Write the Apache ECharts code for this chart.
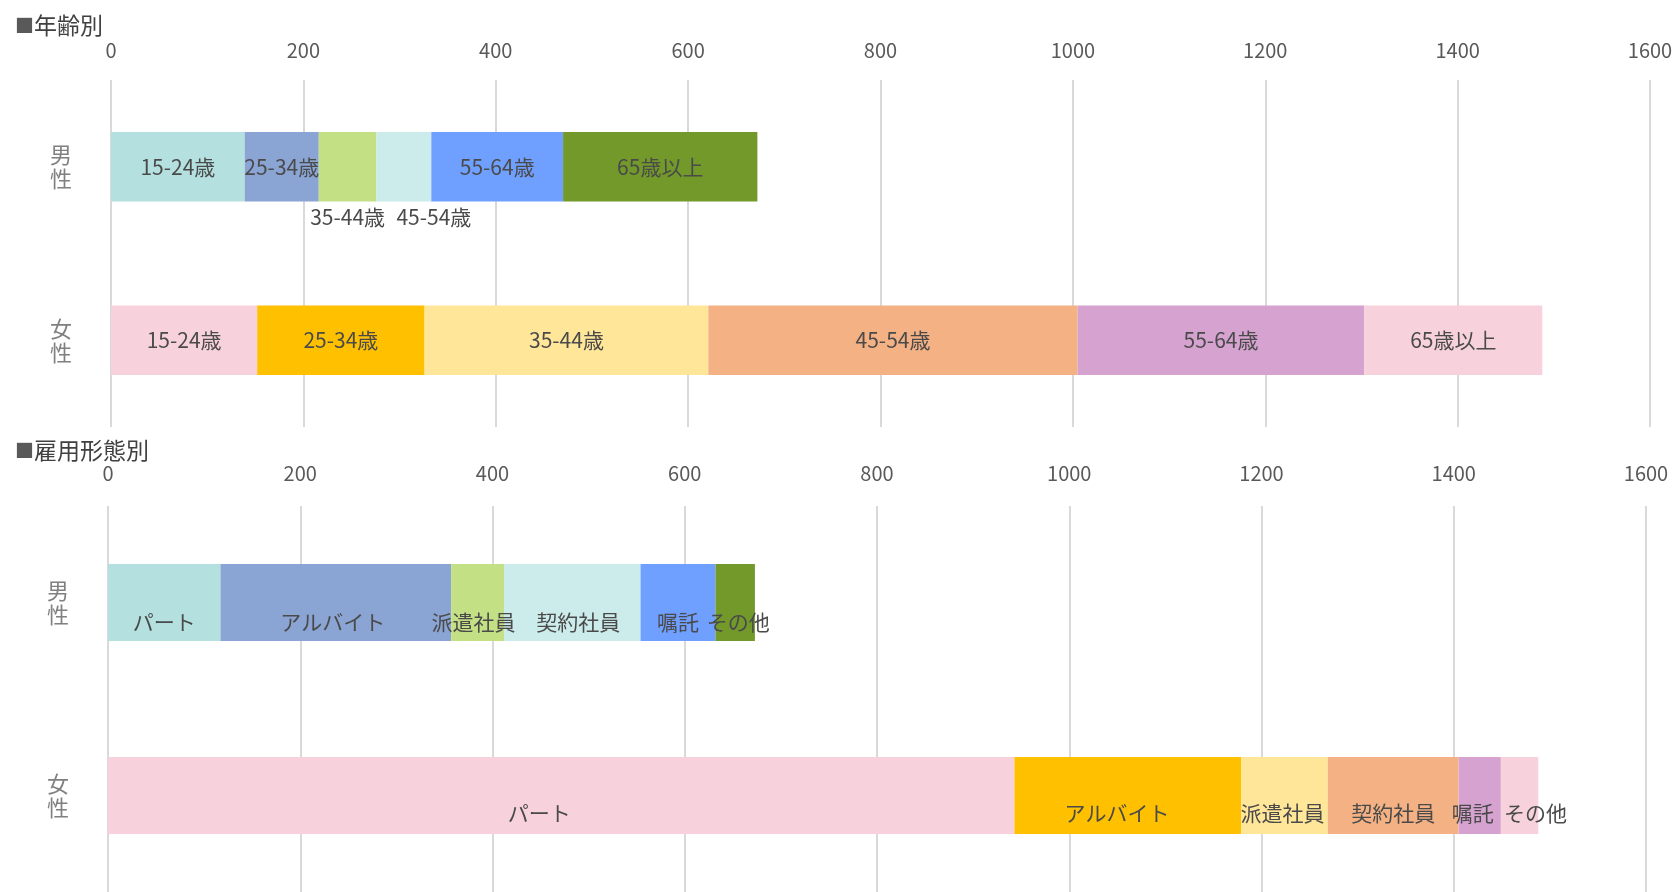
<!DOCTYPE html>
<html>
<head>
<meta charset="utf-8">
<script src="https://cdn.jsdelivr.net/npm/echarts@6/dist/echarts.min.js"></script>
<style>
html,body{margin:0;padding:0;background:#fff;}
#c{width:1680px;height:892px;}
</style>
</head>
<body>
<div id="c"></div>
<script>
// ---- data ----
const genders = ['男性', '女性'];
const ageGroups = ['15-24歳', '25-34歳', '35-44歳', '45-54歳', '55-64歳', '65歳以上'];
const ageMale = [139, 77, 60, 57, 137, 202];
const ageFemale = [152, 174, 295, 384, 298, 185];
const empTypes = ['パート', 'アルバイト', '派遣社員', '契約社員', '嘱託', 'その他'];
const empMale = [117, 240, 55, 142, 78, 41];
const empFemale = [943, 236, 90, 136, 44, 39];
const xMin = 0, xMax = 1600, xStep = 200;

// ---- styles ----
const maleColors = ['#B4E0E0', '#8AA4D4', '#C4E085', '#CCEBEB', '#6F9FFF', '#72992A'];
const femaleColors = ['#F7D2DC', '#FFC000', '#FFE699', '#F4B183', '#D6A3D0', '#F7D2DC'];
const FONT = '"Noto Sans CJK JP", "Noto Sans", sans-serif';
const labelBase = { show: true, color: '#4A4A4A', fontSize: 21, fontFamily: FONT };

// per-label placement tweaks (styles, not data)
const ageMaleLabel = [
  {}, {}, { position: 'bottom', distance: 5 }, { position: 'bottom', distance: 5, offset: [30, 0] }, {}, {}
];
const empMaleDx = [0, -3, -4, 6, 0, 3];
const empFemaleDx = [-22, -11, -2, 0, -7, 16];

const chart = echarts.init(document.getElementById('c'), null, { renderer: 'canvas' });

function xAxisCfg(gridIndex) {
  return {
    type: 'value', gridIndex: gridIndex, position: 'top',
    min: xMin, max: xMax, interval: xStep,
    axisLine: { show: false }, axisTick: { show: false },
    axisLabel: { color: '#595959', fontSize: 20, fontFamily: FONT, margin: gridIndex === 0 ? 20 : 23,
      formatter: v => String(v) },
    splitLine: { show: true, lineStyle: { color: '#D9D9D9', width: 2 } }
  };
}
function yAxisCfg(gridIndex) {
  return {
    type: 'category', gridIndex: gridIndex, data: genders, inverse: true,
    axisLine: { show: false }, axisTick: { show: false }, splitLine: { show: false },
    axisLabel: {
      color: '#808080', fontSize: 22, fontFamily: FONT, lineHeight: 24, margin: 39,
      padding: gridIndex === 0 ? 0 : [28, 0, 0, 0],
      formatter: v => v.split('').join('\n')
    }
  };
}

const series = [];
ageGroups.forEach((name, i) => {
  series.push({
    name: name, type: 'bar', stack: 'age', xAxisIndex: 0, yAxisIndex: 0,
    barWidth: '40%', silent: true,
    label: Object.assign({}, labelBase, { position: 'inside', formatter: name }),
    data: [
      { value: ageMale[i], itemStyle: { color: maleColors[i] },
        label: Object.assign({}, labelBase, { position: 'inside', formatter: name }, ageMaleLabel[i]) },
      { value: ageFemale[i], itemStyle: { color: femaleColors[i] } }
    ]
  });
});
empTypes.forEach((name, i) => {
  series.push({
    name: name, type: 'bar', stack: 'emp', xAxisIndex: 1, yAxisIndex: 1,
    barWidth: '40%', silent: true,
    label: Object.assign({}, labelBase, { position: 'inside', formatter: name }),
    data: [
      { value: empMale[i], itemStyle: { color: maleColors[i] },
        label: Object.assign({}, labelBase, { position: 'inside', formatter: name, offset: [empMaleDx[i], 20] }) },
      { value: empFemale[i], itemStyle: { color: femaleColors[i] },
        label: Object.assign({}, labelBase, { position: 'inside', formatter: name, offset: [empFemaleDx[i], 18] }) }
    ]
  });
});

chart.setOption({
  animation: false,
  backgroundColor: '#fff',
  title: [
    { text: '{b|■}年齢別', left: 10, top: 9,
      textStyle: { fontSize: 23, color: '#404040', fontWeight: 'normal', fontFamily: FONT,
        rich: { b: { fontSize: 19, color: '#595959', fontFamily: FONT } } } },
    { text: '{b|■}雇用形態別', left: 10, top: 434,
      textStyle: { fontSize: 23, color: '#404040', fontWeight: 'normal', fontFamily: FONT,
        rich: { b: { fontSize: 19, color: '#595959', fontFamily: FONT } } } }
  ],
  grid: [
    { left: 111, right: 30, top: 80, height: 347, containLabel: false },
    { left: 108, right: 34, top: 506, height: 389, containLabel: false }
  ],
  xAxis: [xAxisCfg(0), xAxisCfg(1)],
  yAxis: [yAxisCfg(0), yAxisCfg(1)],
  series: series
});
</script>
</body>
</html>
